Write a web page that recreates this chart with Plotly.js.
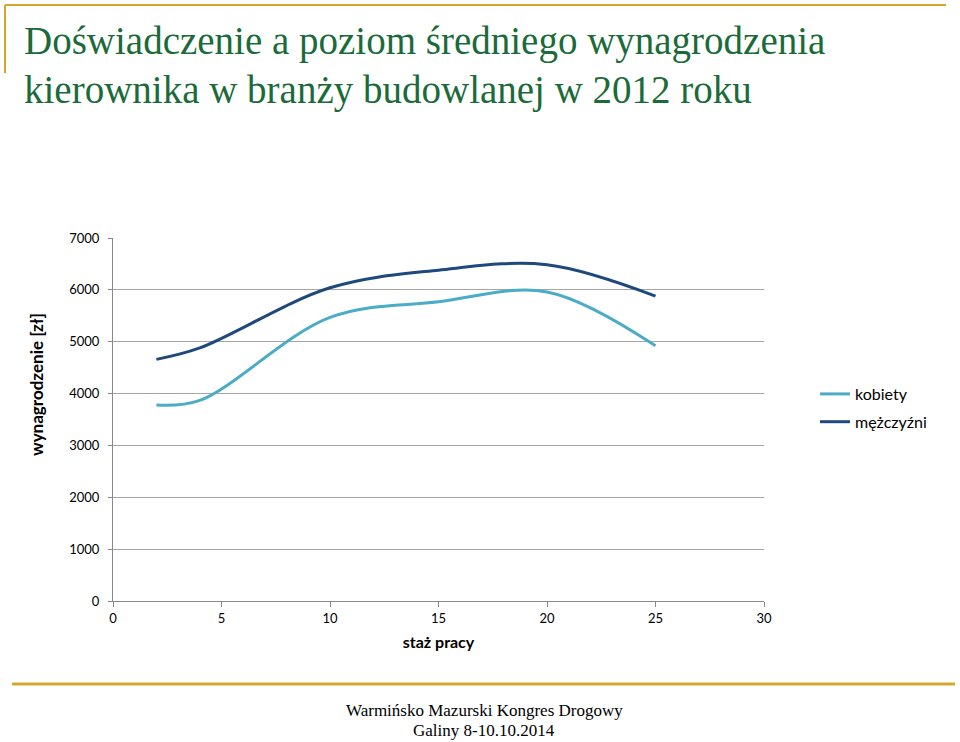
<!DOCTYPE html>
<html>
<head>
<meta charset="utf-8">
<script src="https://cdn.plot.ly/plotly-3.0.1.min.js"></script>
<style>html,body{margin:0;padding:0;background:#fff;}#chart{width:960px;height:742px;}</style>
</head>
<body>
<div id="chart"></div>
<script>
const stazPracy = [2, 4, 10, 15, 20, 25];
const kobiety = [3780, 3870, 5470, 5770, 5960, 4920];
const mezczyzni = [4660, 4880, 6040, 6380, 6485, 5880];
const xTicks = [0, 5, 10, 15, 20, 25, 30];
const yTicks = [0, 1000, 2000, 3000, 4000, 5000, 6000, 7000];
const titleLines = ['Doświadczenie a poziom średniego wynagrodzenia', 'kierownika w branży budowlanej w 2012 roku'];

const L = 113, R = 764, T = 238, B = 601;
const px = v => (v - L) / (R - L);
const py = v => (B - v) / (B - T);
const gold = '#D4A72C';
const sans = 'Lato, "Liberation Sans", sans-serif';
const tickFont = {family: sans, size: 13, color: '#000'};
const titleFont = {family: '"Liberation Serif", "DejaVu Serif", serif', size: 39, color: '#1B6B3A'};

const traces = [
  {x: stazPracy, y: kobiety, name: 'kobiety', type: 'scatter', mode: 'lines',
   line: {color: '#4BACC6', width: 3, shape: 'spline', smoothing: 1}, legendgroup: 'a'},
  {x: stazPracy, y: mezczyzni, name: 'mężczyźni', type: 'scatter', mode: 'lines',
   line: {color: '#1F497D', width: 3, shape: 'spline', smoothing: 1}, legendgroup: 'b'}
];

const layout = {
  width: 960, height: 742,
  margin: {l: L, r: 960 - R, t: T, b: 742 - B},
  paper_bgcolor: '#fff', plot_bgcolor: '#fff',
  showlegend: true,
  legend: {x: px(815), y: py(377), xanchor: 'left', yanchor: 'top',
           font: {family: sans, size: 16, color: '#000'},
           traceorder: 'grouped', tracegroupgap: 4, bgcolor: 'rgba(0,0,0,0)'},
  xaxis: {range: [0, 30], tickvals: xTicks, ticks: 'outside', ticklen: 5, tickcolor: '#888',
          showline: true, linecolor: '#888', linewidth: 1, showgrid: false, zeroline: false,
          tickfont: tickFont,
          title: {text: '<b>staż pracy</b>', font: {family: sans, size: 16, color: '#000'}, standoff: 12}},
  yaxis: {range: [0, 7000], tickvals: yTicks, ticks: 'outside', ticklen: 4, tickcolor: '#888',
          showline: true, linecolor: '#888', linewidth: 1, showgrid: true, gridcolor: '#A6A6A6', gridwidth: 1,
          zeroline: false, tickfont: tickFont, ticklabelstandoff: 6},
  shapes: [
    {type: 'line', xref: 'paper', yref: 'paper', x0: px(5), x1: px(946), y0: py(5), y1: py(5), line: {color: gold, width: 2}},
    {type: 'line', xref: 'paper', yref: 'paper', x0: px(5), x1: px(5), y0: py(5), y1: py(73), line: {color: gold, width: 2}},
    {type: 'line', xref: 'paper', yref: 'paper', x0: px(12), x1: px(955), y0: py(684), y1: py(684), line: {color: gold, width: 3}}
  ],
  annotations: [
    {text: titleLines[0], xref: 'paper', yref: 'paper', x: px(22), y: py(41),
     showarrow: false, xanchor: 'left', yanchor: 'middle', font: titleFont},
    {text: titleLines[1], xref: 'paper', yref: 'paper', x: px(22), y: py(90),
     showarrow: false, xanchor: 'left', yanchor: 'middle', font: titleFont},
    {text: '<b>wynagrodzenie [zł]</b>', xref: 'paper', yref: 'paper', x: px(36), y: py(385),
     textangle: -90, showarrow: false, xanchor: 'center', yanchor: 'middle',
     font: {family: sans, size: 17, color: '#000'}},
    {text: 'Warmińsko Mazurski Kongres Drogowy', xref: 'paper', yref: 'paper', x: px(484), y: py(710),
     showarrow: false, xanchor: 'center', yanchor: 'middle',
     font: {family: '"Liberation Serif", serif', size: 17, color: '#000'}},
    {text: 'Galiny 8-10.10.2014', xref: 'paper', yref: 'paper', x: px(484), y: py(730),
     showarrow: false, xanchor: 'center', yanchor: 'middle',
     font: {family: '"Liberation Serif", serif', size: 17, color: '#000'}}
  ]
};

Plotly.newPlot('chart', traces, layout, {displayModeBar: false, staticPlot: true});
</script>
</body>
</html>
